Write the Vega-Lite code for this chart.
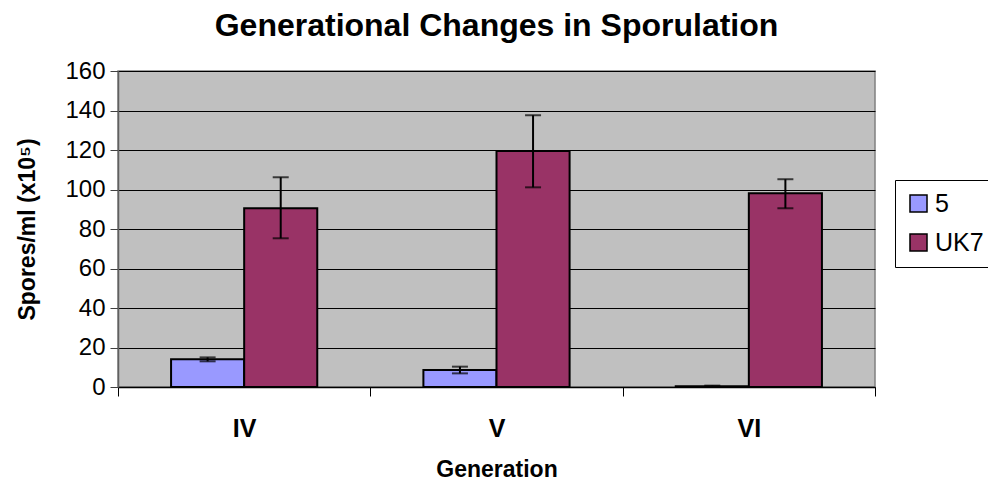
{
  "$schema": "https://vega.github.io/schema/vega-lite/v6.json",
  "width": 757,
  "height": 316,
  "autosize": {"type": "none"},
  "padding": {"left": 118, "top": 71, "right": 113, "bottom": 95},
  "background": "white",
  "config": {
    "font": "Liberation Sans",
    "view": {"fill": "#C0C0C0", "stroke": "#808080", "strokeWidth": 1.5},
    "axisY": {
      "titleFontSize": 23,
      "titleFontWeight": "bold",
      "titleColor": "black",
      "titlePadding": 25,
      "tickCount": 10,
      "labelOverlap": false,
      "labelFontSize": 24,
      "labelColor": "black",
      "labelPadding": 5,
      "tickSize": 8,
      "tickColor": "#404040",
      "domainColor": "#606060",
      "domainWidth": 1.5,
      "grid": true,
      "gridColor": "black",
      "gridWidth": 1
    }
  },
  "title": {
    "text": "Generational Changes in Sporulation",
    "fontSize": 32,
    "fontWeight": "bold",
    "color": "black",
    "anchor": "middle",
    "offset": 16
  },
  "data": {
    "values": [
      {"gen": "IV", "strain": "5", "value": 14.0, "lo": 13.0, "hi": 15.0},
      {"gen": "IV", "strain": "UK7", "value": 90.5, "lo": 75.3, "hi": 106.2},
      {"gen": "V", "strain": "5", "value": 8.6, "lo": 6.9, "hi": 10.3},
      {"gen": "V", "strain": "UK7", "value": 119.5, "lo": 101.1, "hi": 137.6},
      {"gen": "VI", "strain": "5", "value": 0.4, "lo": 0.1, "hi": 0.7},
      {"gen": "VI", "strain": "UK7", "value": 98.1, "lo": 90.5, "hi": 105.2}
    ]
  },
  "encoding": {
    "x": {
      "field": "gen",
      "type": "nominal",
      "sort": ["IV", "V", "VI"],
      "scale": {"paddingInner": 0, "paddingOuter": 0},
      "axis": {
        "title": "Generation",
        "titleFontSize": 23,
        "titleFontWeight": "bold",
        "titleColor": "black",
        "titlePadding": 17,
        "labelAngle": 0,
        "labelFontSize": 25,
        "labelFontWeight": "bold",
        "labelColor": "black",
        "labelPadding": 20,
        "tickBand": "extent",
        "tickSize": 9,
        "tickColor": "black",
        "domainColor": "black",
        "domainWidth": 1.5
      }
    },
    "xOffset": {"field": "strain", "type": "nominal", "sort": ["5", "UK7"], "scale": {"paddingInner": 0, "paddingOuter": 0.726}}
  },
  "layer": [
    {
      "mark": {"type": "bar", "stroke": "black", "strokeWidth": 2},
      "encoding": {
        "y": {
          "field": "value",
          "type": "quantitative",
          "scale": {"domain": [0, 160]},
          "axis": {"title": "Spores/ml (x10⁵)", "values": [0, 20, 40, 60, 80, 100, 120, 140, 160]}
        },
        "fill": {
          "field": "strain",
          "type": "nominal",
          "scale": {"domain": ["5", "UK7"], "range": ["#9999FF", "#993366"]},
          "legend": {
            "title": null,
            "orient": "none",
            "legendX": 777,
            "legendY": 109,
            "padding": 11,
            "strokeColor": "black",
            "fillColor": "white",
            "symbolType": "square",
            "symbolSize": 290,
            "symbolStrokeColor": "black",
            "symbolStrokeWidth": 1.5,
            "symbolOpacity": 1,
            "labelFontSize": 25,
            "labelColor": "black",
            "labelOffset": 4,
            "rowPadding": 13,
            "labelLimit": 200
          }
        }
      }
    },
    {
      "mark": {"type": "rule", "color": "black", "strokeWidth": 2},
      "encoding": {
        "y": {"field": "lo", "type": "quantitative", "axis": {"title": "Spores/ml (x10⁵)", "values": [0, 20, 40, 60, 80, 100, 120, 140, 160]}},
        "y2": {"field": "hi"}
      }
    },
    {
      "mark": {"type": "tick", "color": "black", "thickness": 2, "size": 16},
      "encoding": {"y": {"field": "lo", "type": "quantitative", "axis": {"title": "Spores/ml (x10⁵)", "values": [0, 20, 40, 60, 80, 100, 120, 140, 160]}}}
    },
    {
      "mark": {"type": "tick", "color": "black", "thickness": 2, "size": 16},
      "encoding": {"y": {"field": "hi", "type": "quantitative", "axis": {"title": "Spores/ml (x10⁵)", "values": [0, 20, 40, 60, 80, 100, 120, 140, 160]}}}
    }
  ]
}
